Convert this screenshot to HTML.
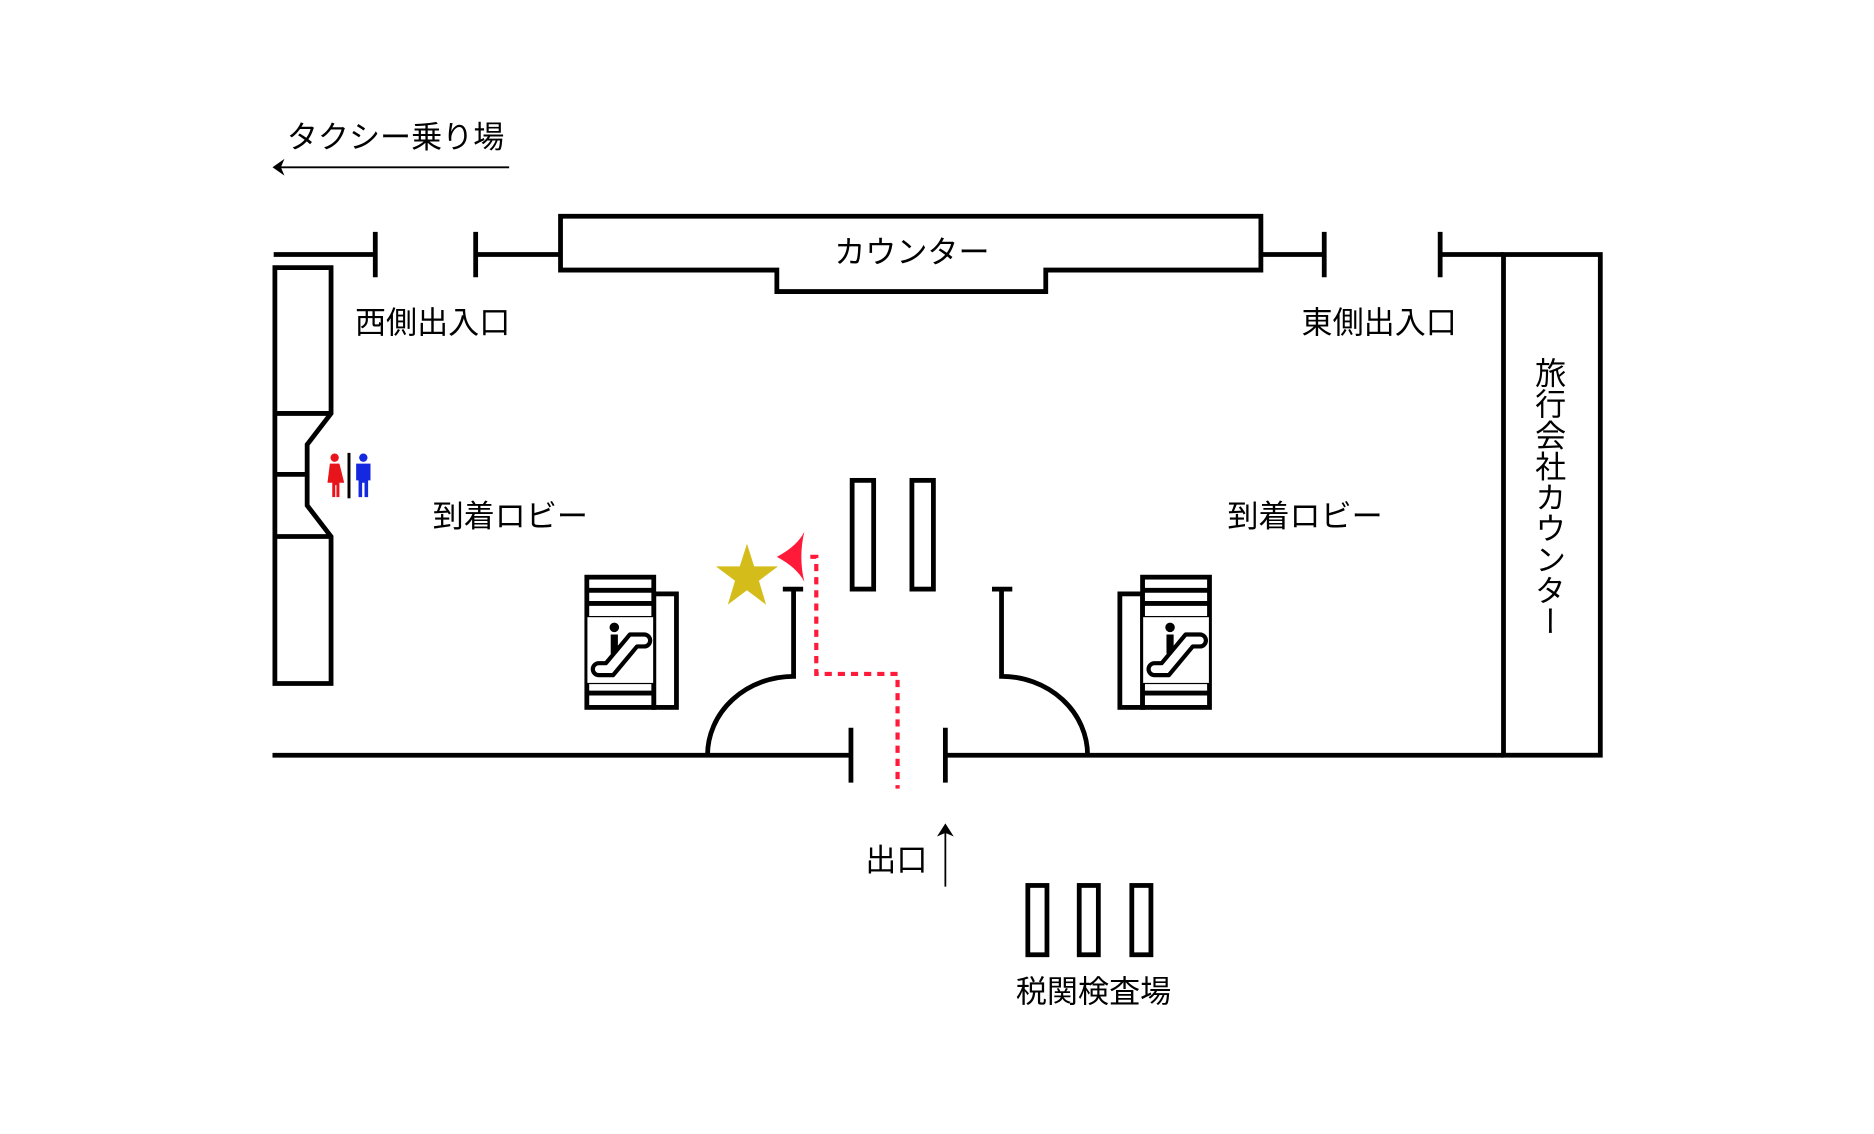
<!DOCTYPE html>
<html><head><meta charset="utf-8"><style>
html,body{margin:0;padding:0;background:#fff;}
svg{display:block;}
text{font-family:"Liberation Sans","Noto Sans CJK JP",sans-serif;fill:#000;}
</style></head><body>
<svg width="1874" height="1134" viewBox="0 0 1568 949" preserveAspectRatio="none" xmlns="http://www.w3.org/2000/svg">
<defs>
<g id="esc">
  <rect x="0" y="0" width="56" height="109" fill="#fff" stroke="#000" stroke-width="4"/>
  <line x1="0" y1="11" x2="56" y2="11" stroke="#000" stroke-width="4"/>
  <line x1="0" y1="22" x2="56" y2="22" stroke="#000" stroke-width="4"/>
  <rect x="0" y="33" width="56" height="56" fill="#fff" stroke="#000" stroke-width="1"/>
  <line x1="0" y1="97" x2="56" y2="97" stroke="#000" stroke-width="4"/>
  <circle cx="23" cy="42" r="4" fill="#000"/>
  <path d="M20 48 h6 v12 l-4 4 h-2z" fill="#000"/>
  <path d="M10 72 h6 l20 -24 h12 a5 5 0 0 1 0 10 h-6 l-20 24 h-12 a5 5 0 0 1 0 -10z" fill="none" stroke="#000" stroke-width="3.5" stroke-linejoin="round"/>
</g>
</defs>
<g fill="none" stroke="#000" stroke-width="4">
  <line x1="229" y1="213" x2="314" y2="213"/>
  <line x1="314" y1="194" x2="314" y2="232"/>
  <line x1="398" y1="194" x2="398" y2="232"/>
  <line x1="398" y1="213" x2="469" y2="213"/>
  <polygon points="469,181 1055,181 1055,226 875,226 875,244 650,244 650,226 469,226"/>
  <line x1="1055" y1="213" x2="1108" y2="213"/>
  <line x1="1108" y1="194" x2="1108" y2="232"/>
  <line x1="1205" y1="194" x2="1205" y2="232"/>
  <line x1="1205" y1="213" x2="1258" y2="213"/>
  <rect x="1258" y="213" width="81" height="419"/>
  <polygon points="230,224 277,224 277,346 257,372 257,423 277,449 277,572 230,572"/>
  <line x1="230" y1="346" x2="277" y2="346"/>
  <line x1="230" y1="397" x2="257" y2="397"/>
  <line x1="230" y1="449" x2="277" y2="449"/>
  <line x1="228" y1="632" x2="712" y2="632"/>
  <line x1="712" y1="609" x2="712" y2="655"/>
  <line x1="791" y1="609" x2="791" y2="655"/>
  <line x1="791" y1="632" x2="1258" y2="632"/>
  <path d="M592 632 A72 66 0 0 1 664 566 V493"/>
  <line x1="655" y1="493" x2="672" y2="493"/>
  <path d="M910 632 A72 66 0 0 0 838 566 V493"/>
  <line x1="830" y1="493" x2="847" y2="493"/>
  <rect x="713" y="402" width="18" height="91"/>
  <rect x="763" y="402" width="18" height="91"/>
  <rect x="860" y="741" width="16" height="58"/>
  <rect x="903" y="741" width="16" height="58"/>
  <rect x="947" y="741" width="16" height="58"/>
  <rect x="547" y="497" width="19" height="95"/>
  <rect x="937" y="497" width="19" height="95"/>
</g>
<use href="#esc" x="491" y="483"/>
<use href="#esc" x="956" y="483"/>
<line x1="232" y1="140" x2="426" y2="140" stroke="#000" stroke-width="1.5"/>
<path d="M228 140 L238 133 L235 140 L238 147 Z" fill="#000"/>
<line x1="791" y1="742" x2="791" y2="694" stroke="#000" stroke-width="1.5"/>
<path d="M791 689 L784 700 L791 697 L798 700 Z" fill="#000"/>
<path d="M678 466 H683 V564 H751 V660" fill="none" stroke="#ff1a3a" stroke-width="3.5" stroke-dasharray="6,5"/>
<path d="M650 466 Q667 457 673 445 Q668 466 673 487 Q667 475 650 466 Z" fill="#ff1a3a"/>
<polygon points="625,455 631,474 651,474 635,486 641,506 625,494 609,506 615,486 599,474 619,474" fill="#d4bc1a"/>
<circle cx="280" cy="383" r="3.5" fill="#e8141c"/>
<path d="M276 388 h8 l4 16 h-4 v12 h-2.5 v-10 h-1 v10 h-2.5 v-12 h-4z" fill="#e8141c"/>
<line x1="292" y1="379" x2="292" y2="417" stroke="#000" stroke-width="2.5"/>
<circle cx="304" cy="383" r="3.5" fill="#1428e0"/>
<path d="M298 388 h12 v14 h-2 v14 h-3 v-12 h-2 v12 h-3 v-14 h-2z" fill="#1428e0"/>
<text x="240" y="124" font-size="26">タクシー乗り場</text>
<text x="763" y="220" font-size="26" text-anchor="middle">カウンター</text>
<text x="297" y="279" font-size="26">西側出入口</text>
<text x="1089" y="279" font-size="26">東側出入口</text>
<text x="362" y="441" font-size="26">到着ロビー</text>
<text x="1027" y="441" font-size="26">到着ロビー</text>
<text x="724" y="729" font-size="26">出口</text>
<text x="850" y="839" font-size="26">税関検査場</text>
<text x="1295" y="299" font-size="26" style="writing-mode:vertical-rl;text-orientation:upright;">旅行会社カウンター</text>
</svg>
</body></html>
